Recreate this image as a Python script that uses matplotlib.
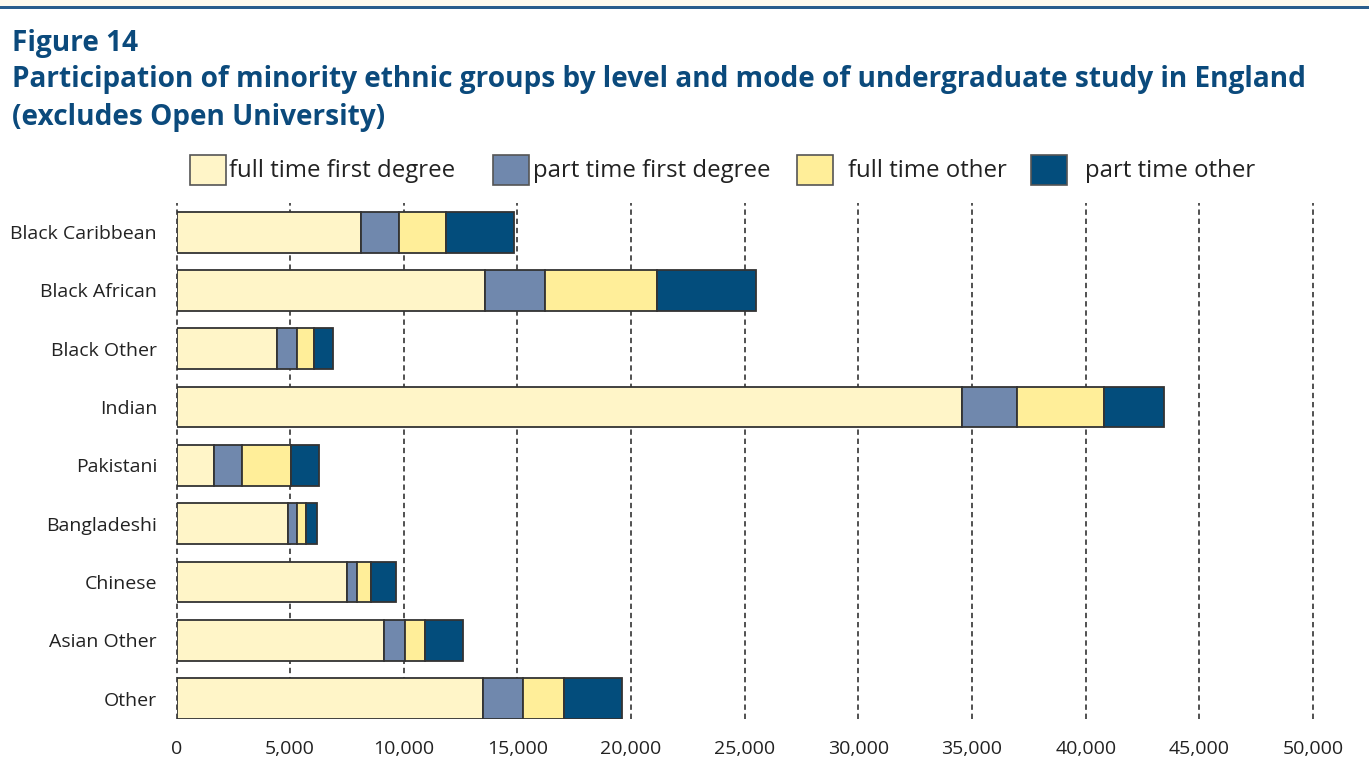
"""
Figure 14: participation of minority ethnic groups by level and mode of
undergraduate study in England (excludes Open University).
"""

import matplotlib

matplotlib.use("Agg")
import matplotlib.pyplot as plt
from matplotlib.patches import Rectangle
from matplotlib.ticker import FuncFormatter

plt.rcParams["font.family"] = ["Open Sans", "DejaVu Sans"]

# данные
groups = [
    "Black Caribbean",
    "Black African",
    "Black Other",
    "Indian",
    "Pakistani",
    "Bangladeshi",
    "Chinese",
    "Asian Other",
    "Other",
]
ft_first = [8100, 13560, 4400, 34550, 1630, 4890, 7480, 9150, 13470]
pt_first = [1670, 2640, 880, 2420, 1230, 390, 440, 890, 1760]
ft_other = [2070, 4930, 790, 3830, 2160, 400, 620, 880, 1800]
pt_other = [2990, 4350, 800, 2640, 1230, 480, 1100, 1670, 2560]

series_labels = [
    "full time first degree",
    "part time first degree",
    "full time other",
    "part time other",
]
colors = ["#FFF5C8", "#7088AD", "#FFEE99", "#034D7C"]
x_ticks = list(range(0, 50001, 5000))

TITLE_COLOR = "#0B4A7C"
TEXT_COLOR = "#222222"

W, H = 1369, 773
fig = plt.figure(figsize=(W / 100, H / 100), dpi=100)

# полоска сверху
fig.patches.append(
    Rectangle((0, 1 - 6 / H), 1, 6 / H, transform=fig.transFigure,
              facecolor="#FFFAEE", edgecolor="none")
)
fig.patches.append(
    Rectangle((0, 1 - 8.5 / H), 1, 2.5 / H, transform=fig.transFigure,
              facecolor="#2A5D8C", edgecolor="none")
)

fig.text(12 / W, 1 - 43 / H, "Figure 14", fontsize=20.2, fontweight="bold",
         color=TITLE_COLOR, va="center", ha="left")
fig.text(12 / W, 1 - 79 / H,
         "Participation of minority ethnic groups by level and mode of undergraduate study in England",
         fontsize=20.2, fontweight="bold", color=TITLE_COLOR, va="center", ha="left")
fig.text(12 / W, 1 - 117 / H, "(excludes Open University)", fontsize=20.2,
         fontweight="bold", color=TITLE_COLOR, va="center", ha="left")

# оси
ax_left, ax_right = 176.5, 1313.0
ax_top, ax_bottom = 203.0, 719.0
ax = fig.add_axes([ax_left / W, 1 - ax_bottom / H,
                   (ax_right - ax_left) / W, (ax_bottom - ax_top) / H])

y = list(range(len(groups)))
left = [0] * len(groups)
for vals, col, lab in zip([ft_first, pt_first, ft_other, pt_other], colors, series_labels):
    ax.barh(y, vals, left=left, height=0.7, color=col, edgecolor="#333333",
            linewidth=1.3, label=lab, zorder=3)
    left = [a + b for a, b in zip(left, vals)]

ax.set_xlim(0, 50000)
ax.set_ylim(8.35, -0.5)
ax.set_yticks(y)
ax.set_yticklabels(groups)
ax.set_xticks(x_ticks)
ax.xaxis.set_major_formatter(FuncFormatter(lambda v, _: f"{int(v):,}"))
ax.tick_params(axis="both", length=0, labelsize=14, colors=TEXT_COLOR)
ax.tick_params(axis="x", pad=15)
ax.tick_params(axis="y", pad=14)
for s in ax.spines.values():
    s.set_visible(False)
ax.grid(axis="x", color="#222222", linestyle=(0, (3.5, 2.5)), linewidth=1.1, zorder=0)
ax.set_axisbelow(True)
for gl in ax.get_xgridlines():
    gl.set_clip_on(False)

# легенда вручную, как в оригинале
legend_items = [
    (190, 229, 0),
    (493, 533, 1),
    (797, 848, 2),
    (1031, 1085, 3),
]
for px, tx, i in legend_items:
    fig.patches.append(
        Rectangle((px / W, 1 - 185 / H), 36 / W, 30 / H, transform=fig.transFigure,
                  facecolor=colors[i], edgecolor="#555555", linewidth=1.2)
    )
    fig.text(tx / W, 1 - 171 / H, series_labels[i], fontsize=17.3, color=TEXT_COLOR,
             va="center", ha="left")

fig.savefig("out.png", dpi=100)
